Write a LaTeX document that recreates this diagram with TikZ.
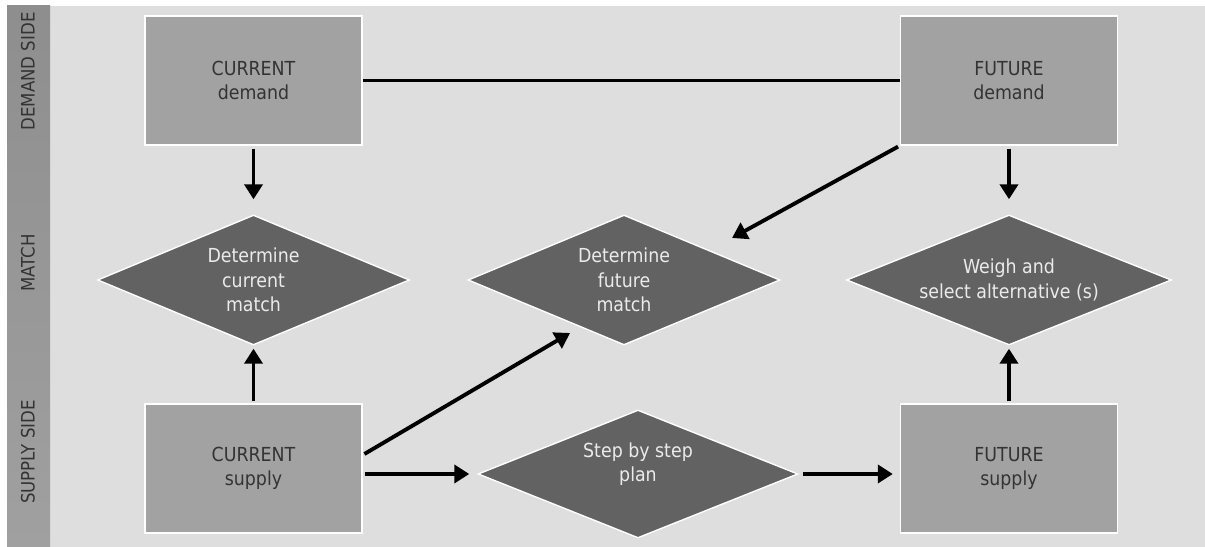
\documentclass[tikz,border=0pt]{standalone}
\usepackage{fontspec}
\setmainfont{DejaVu Sans Condensed}
\usetikzlibrary{shapes.geometric,arrows.meta}

\definecolor{panel}{HTML}{DEDEDE}
\definecolor{boxgray}{HTML}{A2A2A2}
\definecolor{boxtext}{HTML}{333333}
\definecolor{choicegray}{HTML}{626262}
\definecolor{bandtop}{HTML}{8E8E8E}
\definecolor{bandmid}{HTML}{6E6E6E}
\definecolor{bandbot}{HTML}{A0A0A0}

\tikzset{
    box/.style={rectangle, draw=white, line width=0.8pt, fill=boxgray, text=boxtext,
        minimum width=4.34cm, minimum height=2.58cm, align=center,
        font=\fontsize{11}{14}\selectfont},
    choice/.style={diamond, aspect=2.5, draw=white, line width=0.8pt, fill=choicegray,
        minimum width=6.24cm, minimum height=2.6cm, inner sep=0pt},
    choicetext/.style={text=white!92!black, align=center,
        font=\fontsize{11}{14}\selectfont},
    sidelabel/.style={rotate=90, text=boxtext, font=\fontsize{10.5}{12}\selectfont},
    flow/.style={line width=2.2pt, -{Triangle[length=0.3cm,width=0.36cm]}},
}

\begin{document}
\begin{tikzpicture}
        \useasboundingbox (0,0) rectangle (24.1,10.94);
        % background and side band
        \fill[white] (0,0) rectangle (24.1,10.94);
        \fill[panel] (1.0,0) rectangle (24.1,10.82);
        \shade[top color=bandtop, middle color=bandmid, bottom color=bandbot] (0.14,0) rectangle (1.0,10.82);
        \node[sidelabel] (demside) at (0.56,9.51) {DEMAND SIDE};
        \node[sidelabel] (matchside) at (0.56,5.68) {MATCH};
        \node[sidelabel] (supside) at (0.56,1.9) {SUPPLY SIDE};

        % boxes
        \node[box] (cdem) at (5.07,9.33) {CURRENT\\demand};
        \node[box] (fdem) at (20.18,9.33) {FUTURE\\demand};
        \node[box] (csup) at (5.07,1.57) {CURRENT\\supply};
        \node[box] (fsup) at (20.18,1.57) {FUTURE\\supply};

        % diamonds
        \node[choice, choicetext] (cmatch) at (5.07,5.34) {Determine\\current\\match};
        \node[choice, choicetext] (fmatch) at (12.48,5.34) {Determine\\future\\match};
        \node[choice, choicetext, minimum width=6.5cm] (wmatch) at (20.18,5.34) {Weigh and\\select alternative (s)};
        \node[choice, minimum width=6.4cm, minimum height=2.56cm] (plan) at (12.76,1.46) {};
        \node[choicetext] (plantext) at ([yshift=0.2cm]plan.center) {Step by step\\plan};

        % free ends of the slanted arrows
        \coordinate (fin1) at (11.4,4.28);
        \coordinate (fin2) at (14.64,6.18);

        % connectors
        \draw[line width=1.8pt] (cdem.east) -- (fdem.west);
        \draw[flow, shorten <=0.06cm, shorten >=0.3cm] (cdem) -- (cmatch);
        \draw[flow, shorten <=0.06cm, shorten >=0.3cm] (fdem) -- (wmatch);
        \draw[flow, shorten <=0.04cm, shorten >=0.06cm] (csup) -- (cmatch);
        \draw[flow, shorten <=0.04cm, shorten >=0.06cm] (fsup) -- (wmatch);
        \draw[flow, shorten <=0.04cm] ([yshift=0.27cm]csup.east) -- (fin1);
        \draw[flow, shorten <=0.04cm] (fdem.south west) -- (fin2);
        \draw[flow, shorten <=0.04cm, shorten >=0.16cm] (csup.east |- plan) -- (plan);
        \draw[flow, shorten <=0.08cm, shorten >=0.14cm] (plan.east) -- (plan.east -| fsup.west);
    \end{tikzpicture}
\end{document}
